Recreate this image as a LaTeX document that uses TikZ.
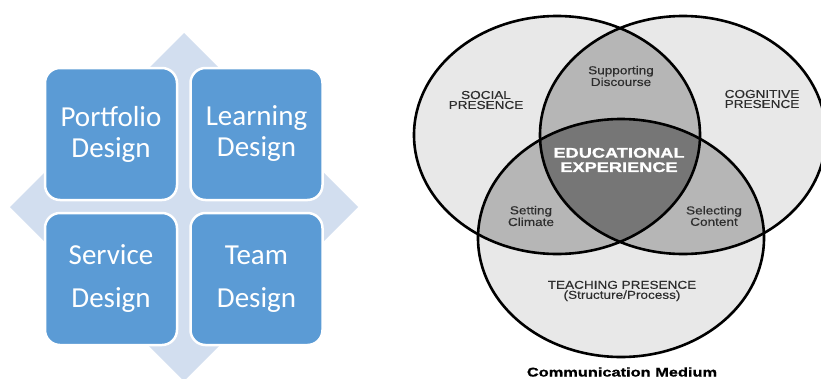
\documentclass[tikz,border=0pt]{standalone}
\usepackage{fontspec}
\setmainfont{Carlito}
\newfontfamily\vennfont[FakeStretch=1.18,FakeBold=0.3]{Liberation Sans}
\newfontfamily\vennheavy[FakeStretch=1.3,FakeBold=1]{Liberation Sans}
\usepackage{xcolor}
\definecolor{boxblue}{RGB}{91,155,213}
\definecolor{diamondblue}{RGB}{210,222,239}
\definecolor{vennlight}{RGB}{232,232,232}
\definecolor{vennmid}{RGB}{182,182,182}
\definecolor{venndark}{RGB}{118,118,118}
\definecolor{venntext}{RGB}{45,45,45}

% outlines of the three presences
\def\socialpath{(557,135) ellipse [x radius=143pt, y radius=119pt]}
\def\cognitivepath{(683,135) ellipse [x radius=143pt, y radius=119pt]}
\def\teachingpath{(621,238) ellipse [x radius=143pt, y radius=119pt]}

\begin{document}
\begin{tikzpicture}[x=1pt, y=-1pt,
    designbox/.style={draw=white, line width=2.5pt, fill=boxblue, rounded corners=15pt,
      minimum width=132pt, minimum height=132pt, inner sep=0pt, text=white,
      align=center, font=\fontsize{29}{31}\selectfont},
    vennlabel/.style={text=venntext, align=center, font=\vennfont\fontsize{11.5}{10}\selectfont}]
    \useasboundingbox (0,0) rectangle (821,378);

    % Light diamond behind the boxes
    \fill[diamondblue] (184,33) -- (358,207) -- (184,381) -- (10,207) -- cycle;

    % Four design boxes
    \node[designbox] (portfolio) at (111,134) {Portfolio\\Design};
    \node[designbox] (learning) at (256.5,134) {Learning\\Design};
    \node[designbox] (service) at (111,279) {Service\\[12pt]Design};
    \node[designbox] (team) at (256.5,279) {Team\\[12pt]Design};

    % Venn shading: single, pairwise and triple overlaps
    \fill[vennlight] \socialpath;
    \fill[vennlight] \cognitivepath;
    \fill[vennlight] \teachingpath;
    \begin{scope}
        \clip \socialpath;
        \fill[vennmid] \cognitivepath;
        \fill[vennmid] \teachingpath;
    \end{scope}
    \begin{scope}
        \clip \cognitivepath;
        \fill[vennmid] \teachingpath;
    \end{scope}
    \begin{scope}
        \clip \socialpath;
        \clip \cognitivepath;
        \fill[venndark] \teachingpath;
    \end{scope}
    \draw[line width=2.6pt] \socialpath;
    \draw[line width=2.6pt] \cognitivepath;
    \draw[line width=2.6pt] \teachingpath;

    % Venn labels
    \node[vennlabel] (social) at (486,100) {SOCIAL\\PRESENCE};
    \node[vennlabel] (cognitive) at (762,99) {COGNITIVE\\PRESENCE};
    \node[vennlabel] (discourse) at (621,76) {Supporting\\Discourse};
    \node[vennlabel] (climate) at (531,216) {Setting\\Climate};
    \node[vennlabel] (content) at (714,216) {Selecting\\Content};
    \node[vennlabel] (teaching) at (622,291) {TEACHING PRESENCE\\(Structure/Process)};
    \node[text=white, align=center, font=\vennheavy\bfseries\fontsize{14}{14.3}\selectfont]
        (experience) at (619,160) {EDUCATIONAL\\EXPERIENCE};
    \node[font=\vennheavy\bfseries\fontsize{12.6}{13}\selectfont] (medium) at (622,372) {Communication Medium};
\end{tikzpicture}
\end{document}
